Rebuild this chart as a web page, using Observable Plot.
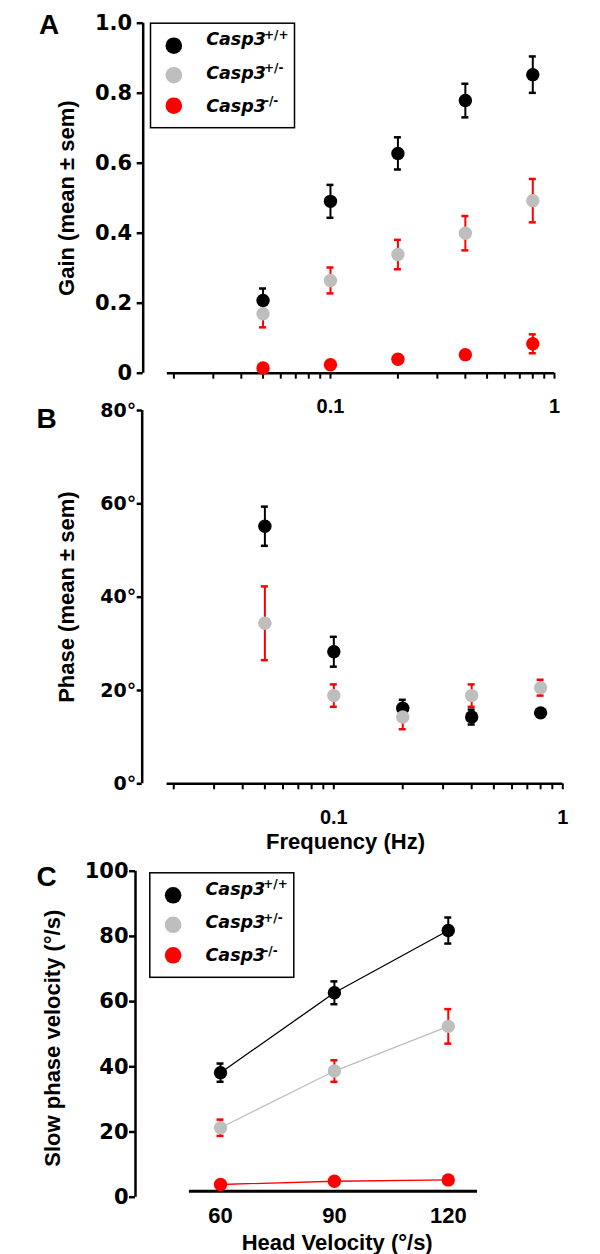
<!DOCTYPE html>
<html>
<head>
<meta charset="utf-8">
<script src="https://cdn.jsdelivr.net/npm/d3@7"></script>
<script src="https://cdn.jsdelivr.net/npm/@observablehq/plot@0.6"></script>
<style>
  body { margin: 0; background: #fff; }
  #fig { position: relative; width: 600px; height: 1254px; overflow: hidden; background: #fff; }
  #fig svg { position: absolute; left: 0; }
</style>
</head>
<body>
<div id="fig"></div>
<script>
// ---------- data ----------
const genotypeSup = ["+/+", "+/-", "-/-"];
const genotypeColors = ["#000000", "#bebebe", "#ff0000"];
const errorColors = ["#000000", "#ff0000", "#ff0000"];

const frequencies = [0.05, 0.1, 0.2, 0.4, 0.8];
const gainWT = [0.208, 0.491, 0.628, 0.779, 0.853];
const gainWTsem = [0.034, 0.047, 0.046, 0.048, 0.052];
const gainHet = [0.170, 0.265, 0.339, 0.400, 0.493];
const gainHetSem = [0.039, 0.037, 0.042, 0.049, 0.062];
const gainKO = [0.015, 0.024, 0.040, 0.053, 0.084];
const gainKOsem = [0.004, 0.005, 0.005, 0.006, 0.027];

const phaseWT = [55.2, 28.3, 16.2, 14.3, 15.2];
const phaseWTsem = [4.2, 3.2, 1.8, 1.6, 0.5];
const phaseHet = [34.4, 18.9, 14.3, 18.9, 20.6];
const phaseHetSem = [7.9, 2.4, 2.6, 2.4, 1.7];

const headVelocities = [60, 90, 120];
const spvWT = [38.2, 62.7, 81.8];
const spvWTsem = [2.8, 3.5, 4.0];
const spvHet = [21.3, 38.7, 52.4];
const spvHetSem = [2.5, 3.3, 5.3];
const spvKO = [3.9, 4.9, 5.3];
const spvKOsem = [0.5, 0.5, 0.5];

const gainTicks = [0, 0.2, 0.4, 0.6, 0.8, 1.0];
const phaseTicks = [0, 20, 40, 60, 80];
const spvTicks = [0, 20, 40, 60, 80, 100];
const freqTicks = [0.02, 0.03, 0.04, 0.05, 0.06, 0.07, 0.08, 0.09, 0.1,
                   0.2, 0.3, 0.4, 0.5, 0.6, 0.7, 0.8, 0.9, 1];
const freqLabelTicks = [0.1, 1];
const headVelocityTicks = [60, 90, 120];

// ---------- helpers ----------
const rows = (xs, means, sems, g) =>
  xs.map((x, i) => ({x, y: means[i], lo: means[i] - sems[i], hi: means[i] + sems[i], g}));

function barMarks(data, g) {
  const ec = errorColors[g];
  return [
    Plot.ruleX(data, {x: "x", y1: "lo", y2: "hi", stroke: ec, strokeWidth: 2}),
    Plot.ruleY(data, {x1: "x", x2: "x", y: "hi", stroke: ec, strokeWidth: 2.5, insetLeft: -3.5, insetRight: -3.5}),
    Plot.ruleY(data, {x1: "x", x2: "x", y: "lo", stroke: ec, strokeWidth: 2.5, insetLeft: -3.5, insetRight: -3.5})
  ];
}
const dotMark = (data, g) => Plot.dot(data, {x: "x", y: "y", r: 6.7, fill: genotypeColors[g], stroke: "none"});
const seriesLayers = (list) => [...list.flatMap((d, g) => barMarks(d, g)), ...list.map((d, g) => dotMark(d, g))];

const legendDotY = [22.5, 52, 82.5];
const legendTextY = [16.5, 50, 83];
function legendMarks(boxDx, boxDy, frameW, frameH) {
  const boxW = 144, boxH = 104.5;
  const marks = [
    Plot.frame({insetLeft: boxDx, insetTop: boxDy, insetRight: frameW - boxDx - boxW,
                insetBottom: frameH - boxDy - boxH, stroke: "#000", strokeWidth: 1.5})
  ];
  genotypeSup.forEach((sup, i) => {
    marks.push(Plot.dot([sup], {frameAnchor: "top-left", dx: boxDx + 23.3, dy: boxDy + legendDotY[i],
      r: 8.3, fill: genotypeColors[i], stroke: "none"}));
    marks.push(Plot.text(["Casp3"], {frameAnchor: "top-left", dx: boxDx + 55.7, dy: boxDy + legendTextY[i],
      textAnchor: "start", lineAnchor: "middle", fontFamily: "DejaVu Sans", fontWeight: "bold",
      fontStyle: "italic", fontSize: 17.5, fill: "#000"}));
    marks.push(Plot.text([sup], {frameAnchor: "top-left", dx: boxDx + 113.5, dy: boxDy + legendTextY[i] - 5,
      textAnchor: "start", lineAnchor: "middle", fontFamily: "DejaVu Sans", fontWeight: "bold",
      fontSize: 12, fill: "#000"}));
  });
  return marks;
}

const baseStyle = {fontFamily: "'Liberation Sans', Arial, sans-serif", background: "transparent", overflow: "visible", color: "#000"};
const fig = document.getElementById("fig");
function place(svg, top) { svg.style.top = top + "px"; fig.appendChild(svg); }
const titleY = (t, dx, dy = 0) => Plot.text([t], {frameAnchor: "left", textAnchor: "middle", lineAnchor: "middle",
  rotate: -90, dx, dy, fontSize: 22, fontWeight: "bold"});
const panelLetter = (t, dx, dy) => Plot.text([t], {frameAnchor: "top-left", textAnchor: "middle",
  lineAnchor: "middle", dx, dy, fontSize: 28, fontWeight: "bold"});

// ---------- Panel A: gain ----------
{
  const xDomain = [0.01459, 1];
  const ml = 142.7, mr = 46, mt = 22.7, h = 430, mb = h - 372.7;
  const chart = Plot.plot({
    width: 600, height: h, marginLeft: ml, marginRight: mr, marginTop: mt, marginBottom: mb,
    style: baseStyle,
    x: {type: "log", domain: xDomain},
    y: {domain: [0, 1]},
    marks: [
      Plot.ruleX([xDomain[0]], {y1: 0, y2: 1, strokeWidth: 2.5}),
      Plot.ruleY([0], {x1: 0.0187, x2: 1, strokeWidth: 2.5}),
      Plot.axisY(gainTicks, {anchor: "left", tickSize: 6, tickPadding: 5, strokeWidth: 2.5,
        tickFormat: d => d === 0 ? "0" : d.toFixed(1), fontFamily: "DejaVu Sans", fontWeight: "bold",
        fontSize: 21, label: null}),
      Plot.axisX(freqTicks, {anchor: "bottom", tickSize: 6, tickPadding: 20, strokeWidth: 2,
        tickFormat: d => freqLabelTicks.includes(d) ? String(d) : "", fontWeight: "bold",
        fontSize: 20, label: null}),
      titleY("Gain (mean ± sem)", -76),
      panelLetter("A", 48.5 - ml, 25 - mt),
      ...legendMarks(7.3, 0, 554 - ml, 350),
      ...seriesLayers([
        rows(frequencies, gainWT, gainWTsem, 0),
        rows(frequencies, gainHet, gainHetSem, 1),
        rows(frequencies, gainKO, gainKOsem, 2)
      ])
    ]
  });
  place(chart, 0);
}

// ---------- Panel B: phase ----------
{
  const top = 390;
  const xDomain = [0.01456, 1];
  const ml = 141.7, mr = 37.7, mt = 410 - top, h = 470, mb = h - (783.3 - top);
  const chart = Plot.plot({
    width: 600, height: h, marginLeft: ml, marginRight: mr, marginTop: mt, marginBottom: mb,
    style: baseStyle,
    x: {type: "log", domain: xDomain},
    y: {domain: [0, 80]},
    marks: [
      Plot.ruleX([xDomain[0]], {y1: 0, y2: 80, strokeWidth: 2.5}),
      Plot.ruleY([0], {x1: 0.0187, x2: 1, strokeWidth: 2.5}),
      Plot.axisY(phaseTicks, {anchor: "left", tickSize: 5, tickPadding: 1, strokeWidth: 2.5,
        tickFormat: d => d + "°", fontFamily: "DejaVu Sans", fontWeight: "bold",
        fontSize: 19, label: null}),
      Plot.axisX(freqTicks, {anchor: "bottom", tickSize: 6, tickPadding: 20, strokeWidth: 2,
        tickFormat: d => freqLabelTicks.includes(d) ? String(d) : "", fontWeight: "bold",
        fontSize: 20, label: null}),
      titleY("Phase (mean ± sem)", -75),
      Plot.text(["Frequency (Hz)"], {frameAnchor: "bottom", textAnchor: "middle", dx: -7, dy: 58.4,
        fontSize: 22, fontWeight: "bold", lineAnchor: "middle"}),
      panelLetter("B", 46 - ml, 419 - 410),
      ...seriesLayers([
        rows(frequencies, phaseWT, phaseWTsem, 0),
        rows(frequencies, phaseHet, phaseHetSem, 1)
      ])
    ]
  });
  place(chart, top);
}

// ---------- Panel C: slow phase velocity ----------
{
  const top = 850;
  const xDomain = [37.6, 127.7];
  const ml = 135, mr = 123, mt = 870.7 - top, h = 404, mb = h - (1196.7 - top);
  const series = [
    rows(headVelocities, spvWT, spvWTsem, 0),
    rows(headVelocities, spvHet, spvHetSem, 1),
    rows(headVelocities, spvKO, spvKOsem, 2)
  ];
  const chart = Plot.plot({
    width: 600, height: h, marginLeft: ml, marginRight: mr, marginTop: mt, marginBottom: mb,
    style: baseStyle,
    x: {domain: xDomain},
    y: {domain: [0, 100]},
    marks: [
      Plot.ruleX([xDomain[0]], {y1: 0, y2: 100, strokeWidth: 2.5}),
      Plot.ruleY([0], {x1: 51.8, x2: xDomain[1], dy: -6, strokeWidth: 3}),
      Plot.axisY(spvTicks, {anchor: "left", tickSize: 6, tickPadding: 1, strokeWidth: 2.5,
        fontFamily: "DejaVu Sans", fontWeight: "bold", fontSize: 21, label: null}),
      Plot.axisX(headVelocityTicks, {anchor: "bottom", tickSize: 0, tickPadding: 10,
        fontWeight: "bold", fontSize: 22, label: null}),
      titleY("Slow phase velocity (°/s)", -83, 4),
      Plot.text(["Head Velocity (°/s)"], {frameAnchor: "bottom", textAnchor: "middle", dx: 30.7, dy: 46,
        fontSize: 22, fontWeight: "bold", lineAnchor: "middle"}),
      panelLetter("C", 46 - ml, 877 - 870.7),
      ...legendMarks(14.3, 1.6, 477 - ml, 326),
      ...series.map((d, g) => Plot.line(d, {x: "x", y: "y", stroke: genotypeColors[g], strokeWidth: 1.3})),
      ...seriesLayers(series)
    ]
  });
  place(chart, top);
}
</script>
</body>
</html>
